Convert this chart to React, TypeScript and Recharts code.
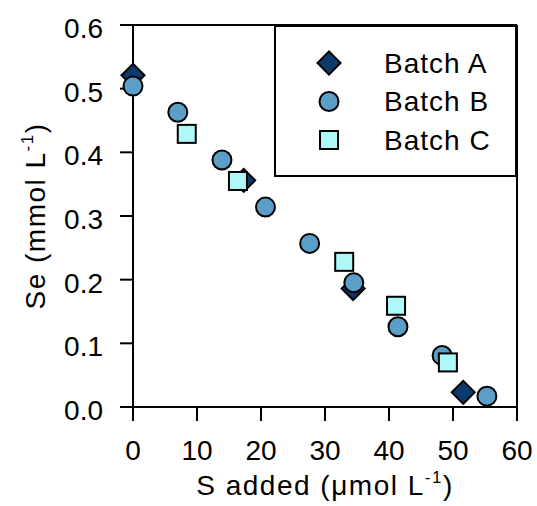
import React from 'react';
import { ScatterChart, Scatter, XAxis, YAxis, ReferenceLine, Legend, Label } from 'recharts';

// values
const batchAx = [0, 17.3, 34.4, 51.6];
const batchAy = [0.521, 0.356, 0.186, 0.023];
const batchBx = [0, 7.0, 13.9, 20.7, 27.6, 34.5, 41.4, 48.3, 55.3];
const batchBy = [0.504, 0.463, 0.388, 0.314, 0.257, 0.195, 0.126, 0.081, 0.017];
const batchCx = [8.4, 16.4, 33.0, 41.1, 49.2];
const batchCy = [0.429, 0.355, 0.228, 0.159, 0.07];
const xTicks = [0, 10, 20, 30, 40, 50, 60];
const yTicks = [0, 0.1, 0.2, 0.3, 0.4, 0.5, 0.6];
const seriesNames = ['Batch A', 'Batch B', 'Batch C'];

const toPoints = (xs: number[], ys: number[]) => xs.map((x, i) => ({ x, y: ys[i] }));
const dataA = toPoints(batchAx, batchAy);
const dataB = toPoints(batchBx, batchBy);
const dataC = toPoints(batchCx, batchCy);

const FONT = '"Liberation Sans", Arial, sans-serif';
const FS = 28;
const COLORS = { a: '#0b3a6c', b: '#5b9ec8', c: '#aef8f8' };

const Diamond = ({ cx, cy }: any) => (
  <path
    d={`M${cx},${cy - 11.5} L${cx + 11.5},${cy} L${cx},${cy + 11.5} L${cx - 11.5},${cy} Z`}
    fill={COLORS.a}
    stroke="#000"
    strokeWidth={2}
  />
);
const Dot = ({ cx, cy }: any) => <circle cx={cx} cy={cy} r={9.5} fill={COLORS.b} stroke="#000" strokeWidth={2} />;
const Square = ({ cx, cy }: any) => (
  <rect x={cx - 9} y={cy - 9} width={18} height={18} fill={COLORS.c} stroke="#000" strokeWidth={2} />
);
const markers = [Diamond, Dot, Square];

const XTick = ({ x, y, payload }: any) => (
  <text x={x} y={y} dy="0.71em" textAnchor="middle" fontSize={FS} fill="#000" fontFamily={FONT}>
    {payload.value}
  </text>
);
const YTick = ({ x, y, payload }: any) => (
  <text x={x} y={y + 3} dy="0.355em" textAnchor="end" fontSize={FS} fill="#000" fontFamily={FONT}>
    {Number(payload.value).toFixed(1)}
  </text>
);

const LegendBox = () => (
  <div style={{ width: 243, height: 152, border: '2px solid #000', boxSizing: 'border-box', background: '#fff' }}>
    <svg width={239} height={148} style={{ display: 'block' }}>
      {seriesNames.map((name, i) => {
        const M = markers[i];
        const cy = 36 + i * 38.5;
        return (
          <g key={name}>
            <M cx={53} cy={cy} />
            <text x={108} y={cy} dy="0.355em" fontSize={FS} fontFamily={FONT} fill="#000" letterSpacing={1}>
              {name}
            </text>
          </g>
        );
      })}
    </svg>
  </div>
);

export default function App() {
  return (
    <div style={{ position: 'absolute', left: 0, top: 0, background: '#fff' }}>
      <ScatterChart width={537} height={506} margin={{ top: 25, right: 20, left: 0, bottom: 0 }}>
        <XAxis
          type="number"
          dataKey="x"
          domain={[0, 60]}
          ticks={xTicks}
          height={99}
          tickSize={14}
          tickMargin={19}
          tick={<XTick />}
          axisLine={{ stroke: '#000', strokeWidth: 2 }}
          tickLine={{ stroke: '#000', strokeWidth: 2 }}
        >
          <Label
            content={({ viewBox }: any) => (
              <text
                x={viewBox.x + viewBox.width / 2}
                y={viewBox.y + 88}
                textAnchor="middle"
                fontSize={FS}
                fontFamily={FONT}
                fill="#000"
                letterSpacing={1.5}
              >
                S added (μmol L
                <tspan fontSize={17} dy={-12}>-1</tspan>
                <tspan dy={12}>)</tspan>
              </text>
            )}
          />
        </XAxis>
        <YAxis
          type="number"
          dataKey="y"
          domain={[0, 0.6]}
          ticks={yTicks}
          width={133}
          tickSize={13}
          tickMargin={17}
          tick={<YTick />}
          axisLine={{ stroke: '#000', strokeWidth: 2 }}
          tickLine={{ stroke: '#000', strokeWidth: 2 }}
        >
          <Label
            content={({ viewBox }: any) => {
              const cx = viewBox.x + 45;
              const cy = viewBox.y + viewBox.height / 2;
              return (
                <text
                  x={cx}
                  y={cy}
                  transform={`rotate(-90 ${cx} ${cy})`}
                  textAnchor="middle"
                  fontSize={FS}
                  fontFamily={FONT}
                  fill="#000"
                  letterSpacing={1.5}
                >
                  Se (mmol L
                  <tspan fontSize={17} dy={-12}>-1</tspan>
                  <tspan dy={12}>)</tspan>
                </text>
              );
            }}
          />
        </YAxis>
        <ReferenceLine y={0.6} stroke="#000" strokeWidth={2} />
        <ReferenceLine x={60} stroke="#000" strokeWidth={2} />
        <Legend
          layout="vertical"
          align="center"
          verticalAlign="middle"
          wrapperStyle={{ top: 25, left: 274, width: 243, height: 152 }}
          content={() => <LegendBox />}
        />
        <Scatter name="Batch A" data={dataA} shape={(p: any) => <Diamond cx={p.cx} cy={p.cy} />} isAnimationActive={false} />
        <Scatter name="Batch B" data={dataB} shape={(p: any) => <Dot cx={p.cx} cy={p.cy} />} isAnimationActive={false} />
        <Scatter name="Batch C" data={dataC} shape={(p: any) => <Square cx={p.cx} cy={p.cy} />} isAnimationActive={false} />
      </ScatterChart>
    </div>
  );
}
